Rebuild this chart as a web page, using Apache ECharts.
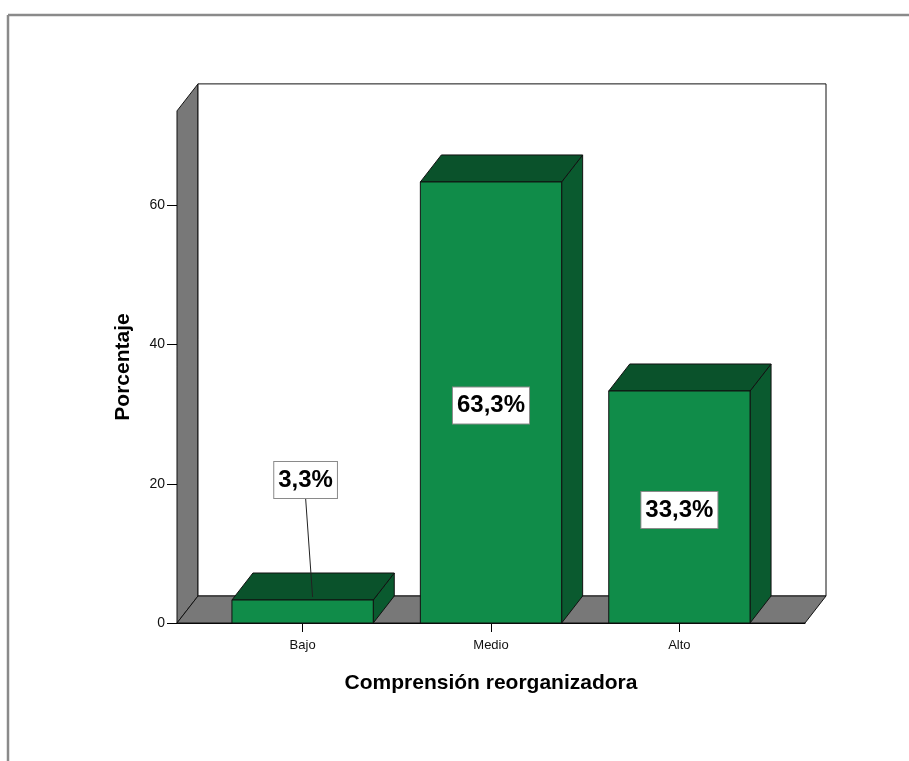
<!DOCTYPE html>
<html><head><meta charset="utf-8">
<script src="https://cdn.jsdelivr.net/npm/echarts@6/dist/echarts.min.js"></script>
<style>html,body{margin:0;padding:0;background:#fff}#c{width:909px;height:761px}</style>
</head><body><div id="c"></div>
<script>
const categories = ['Bajo', 'Medio', 'Alto'];
const percentages = [3.3, 63.3, 33.3];
const percentLabels = ['3,3%', '63,3%', '33,3%'];
const yTicks = [0, 20, 40, 60];
const xTitle = 'Comprensión reorganizadora';
const yTitle = 'Porcentaje';

const DX = 21, DY = -27;
const HALF = 0.375;
const Y_MAX = 73.5;
const X_MIN = -2 / 3, X_MAX = categories.length - 1 + 2 / 3;
const FONT = '"Liberation Sans", Arial, sans-serif';
const GREEN_FRONT = '#108c49', GREEN_TOP = '#0a522b', GREEN_SIDE = '#0a5a2f';
const WALL = '#787878', EDGE = '#111';

const chart = echarts.init(document.getElementById('c'), null, {renderer: 'canvas'});

function wallsRender(params, api) {
  const fl = api.coord([X_MIN, 0]);
  const fr = api.coord([X_MAX, 0]);
  const tl = api.coord([X_MIN, Y_MAX]);
  const tr = api.coord([X_MAX, Y_MAX]);
  const st = {stroke: EDGE, lineWidth: 1};
  const children = [
    {type: 'polygon', shape: {points: [[fl[0], fl[1]], [tl[0], tl[1]], [tl[0] + DX, tl[1] + DY], [fl[0] + DX, fl[1] + DY]]},
     style: Object.assign({fill: WALL}, st)},
    {type: 'rect', shape: {x: tl[0] + DX, y: tl[1] + DY, width: tr[0] - tl[0], height: fl[1] - tl[1]},
     style: Object.assign({fill: '#fff'}, st)},
    {type: 'polygon', shape: {points: [[fl[0], fl[1]], [fr[0], fr[1]], [fr[0] + DX, fr[1] + DY], [fl[0] + DX, fl[1] + DY]]},
     style: Object.assign({fill: WALL}, st)}
  ];
  // y-axis tick marks, placed through the library's value scale
  yTicks.forEach(function (tv) {
    const p = api.coord([X_MIN, tv]);
    children.push({type: 'line', shape: {x1: p[0] - 10, y1: Math.round(p[1]) + 0.5, x2: p[0], y2: Math.round(p[1]) + 0.5},
      style: {stroke: '#000', lineWidth: 1}});
  });
  return {type: 'group', children};
}

function barRender(params, api) {
  const x = api.value(0), v = api.value(1);
  const b = api.coord([x - HALF, 0]);
  const t = api.coord([x + HALF, v]);
  const L = b[0], R = t[0], B = b[1], T = t[1];
  const st = {stroke: EDGE, lineWidth: 1};
  const cx = (L + R) / 2;
  const children = [
    {type: 'polygon', shape: {points: [[R, T], [R, B], [R + DX, B + DY], [R + DX, T + DY]]}, style: Object.assign({fill: GREEN_SIDE}, st)},
    {type: 'polygon', shape: {points: [[L, T], [R, T], [R + DX, T + DY], [L + DX, T + DY]]}, style: Object.assign({fill: GREEN_TOP}, st)},
    {type: 'rect', shape: {x: L, y: T, width: R - L, height: B - T}, style: Object.assign({fill: GREEN_FRONT}, st)}
  ];
  const txt = percentLabels[params.dataIndex];
  const labelStyle = {text: txt, font: 'bold 24px ' + FONT, fill: '#000', align: 'center', verticalAlign: 'middle',
    backgroundColor: '#fff', borderColor: '#8a8a8a', borderWidth: 1, padding: [7, 4, 5, 4]};
  if (B - T > 60) {
    children.push({type: 'text', style: Object.assign({x: cx, y: (T + B) / 2 + 3}, labelStyle), z2: 10});
  } else {
    const ly = T - 120;
    children.push({type: 'line', shape: {x1: cx + 3, y1: ly + 18, x2: cx + 10, y2: T - 3}, style: {stroke: '#222', lineWidth: 1}, z2: 9});
    children.push({type: 'text', style: Object.assign({x: cx + 3, y: ly}, labelStyle), z2: 10});
  }
  return {type: 'group', children};
}

chart.setOption({
  animation: false,
  backgroundColor: '#fff',
  grid: {left: 177, right: 104, top: 110.9, bottom: 138, containLabel: false},
  xAxis: {
    type: 'value', min: X_MIN, max: X_MAX,
    name: xTitle, nameLocation: 'middle', nameGap: 50,
    nameTextStyle: {fontFamily: FONT, fontWeight: 'bold', fontSize: 21, color: '#000'},
    axisLine: {show: true, lineStyle: {color: '#000', width: 1}},
    axisTick: {show: true, length: 9, customValues: [0, 1, 2], lineStyle: {color: '#000'}},
    axisLabel: {customValues: [0, 1, 2], formatter: v => categories[Math.round(v)] || '', margin: 16,
      fontFamily: FONT, fontSize: 13, color: '#111'},
    splitLine: {show: false}
  },
  yAxis: {
    type: 'value', min: 0, max: Y_MAX,
    name: yTitle, nameLocation: 'middle', nameGap: 43, nameRotate: 90,
    nameTextStyle: {fontFamily: FONT, fontWeight: 'bold', fontSize: 21, color: '#000'},
    axisLine: {show: true, lineStyle: {color: '#000', width: 1}},
    axisTick: {show: false},
    axisLabel: {customValues: yTicks, margin: 12, fontFamily: FONT, fontSize: 14, color: '#111'},
    splitLine: {show: false}
  },
  graphic: [
    {type: 'line', shape: {x1: 8, y1: 15, x2: 909, y2: 15}, style: {stroke: '#8a8a8a', lineWidth: 2.5}},
    {type: 'line', shape: {x1: 8, y1: 15, x2: 8, y2: 761}, style: {stroke: '#8a8a8a', lineWidth: 2.5}}
  ],
  series: [
    {type: 'custom', renderItem: wallsRender, data: [[0, 0]], z: 1, silent: true},
    {type: 'custom', renderItem: barRender, data: categories.map((c, i) => [i, percentages[i]]), z: 3, silent: true}
  ]
});
</script>
</body></html>
